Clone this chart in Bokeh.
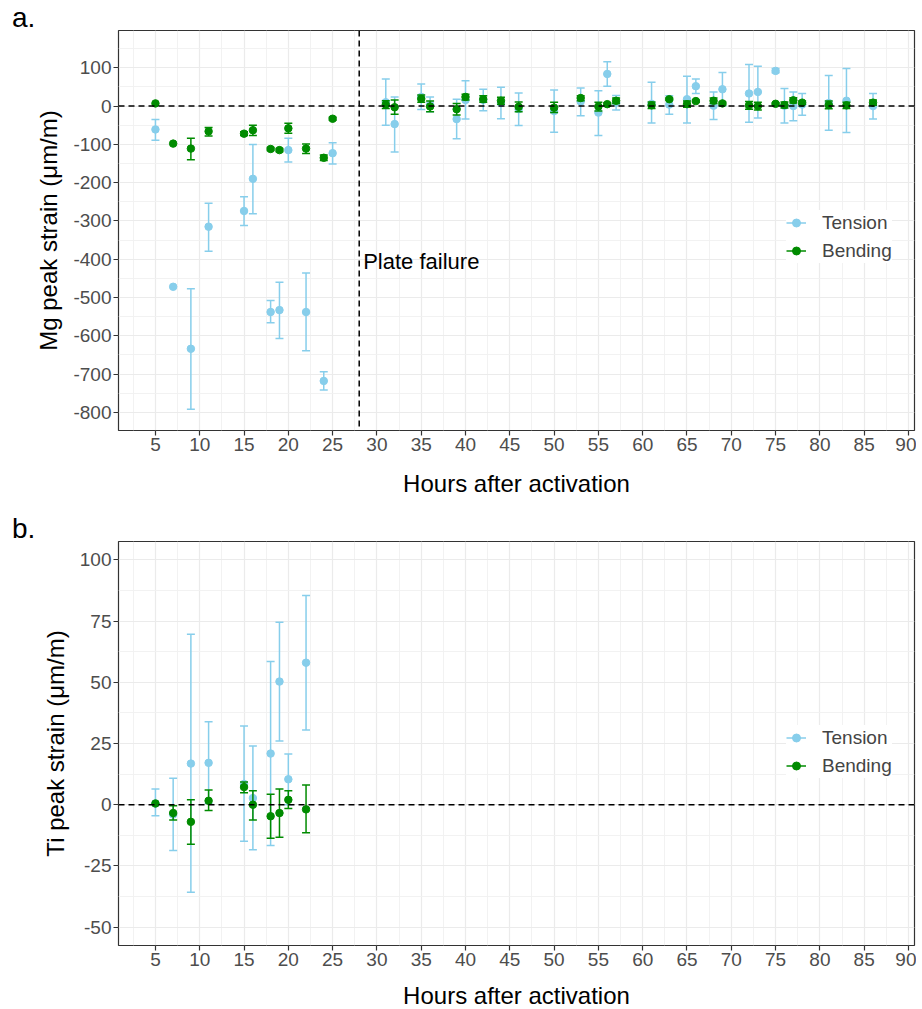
from bokeh.plotting import figure
from bokeh.models import (ColumnDataSource, FixedTicker, Span, Label, Legend,
                          LegendItem, Range1d, Div)
from bokeh.layouts import column
from bokeh.embed import file_html
from bokeh.resources import INLINE

FONT = "Liberation Sans"
TENSION_COLOR = "#87CEEB"
BENDING_COLOR = "#008B00"

# ---------------- x axis ticks (shared) ----------------
x_ticks = [5, 10, 15, 20, 25, 30, 35, 40, 45, 50, 55, 60, 65, 70, 75, 80, 85, 90]
x_minor = [2.5, 7.5, 12.5, 17.5, 22.5, 27.5, 32.5, 37.5, 42.5, 47.5, 52.5,
           57.5, 62.5, 67.5, 72.5, 77.5, 82.5, 87.5]

# ---------------- panel a: Mg ----------------
mg_y_ticks = [-800, -700, -600, -500, -400, -300, -200, -100, 0, 100]
mg_y_minor = [-750, -650, -550, -450, -350, -250, -150, -50, 50, 150]

mg_t_hours = [5, 7, 9, 11, 15, 16, 18, 19, 20, 22, 24, 25, 31, 32, 35, 36, 39, 40,
              42, 44, 46, 50, 53, 55, 56, 57, 61, 63, 65, 66, 68, 69, 72, 73, 75,
              76, 77, 78, 81, 83, 86]
mg_t_mean = [-61, -472, -634, -315, -274, -190, -538, -533, -115, -538, -718, -123,
             10, -47, 24, 4, -34, 16, 16, 8, -8, -13, 12, -17, 84, 9, 6, 4, 18, 52,
             1, 44, 33, 37, 92, 1, 0, 4, 8, 14, 0]
mg_t_low = [-89, None, -792, -379, -312, -281, -566, -607, -146, -639, -742, -151,
            -50, -120, -9, -15, -85, -34, -12, -33, -51, -68, -25, -77, 52, -10,
            -44, -21, -44, 33, -35, 0, -42, -31, 87, -44, -38, -24, -63, -69, -34]
mg_t_high = [-35, None, -477, -254, -237, -100, -508, -460, -84, -436, -694, -96,
             71, 24, 58, 24, 18, 66, 44, 49, 34, 42, 47, 40, 116, 28,
             62, 27, 78, 71, 37, 88, 109, 104, 98, 46, 37, 33, 80, 98, 33]

mg_b_hours = mg_t_hours
mg_b_mean = [7, -98, -111, -66, -72, -63, -112, -115, -58, -111, -135, -33,
             4, -3, 19, -1, -8, 24, 18, 14, -2, -4, 21, -1, 5, 14,
             2, 18, 5, 13, 14, 7, 2, 0, 6, 3, 15, 9, 3, 2, 9]
mg_b_low = [None, None, -140, -78, -77, -77, -116, -119, -71, -124, -142, -37,
            -6, -21, 10, -15, -23, 16, 10, 5, -15, -17, 14, -13, 1, 7,
            -6, 15, -3, 10, 7, 3, -8, -10, 3, -5, 8, 5, -7, -6, 2]
mg_b_high = [None, None, -84, -56, -67, -50, -108, -111, -45, -99, -128, -29,
             14, 16, 29, 13, 7, 31, 27, 23, 11, 10, 27, 10, 9, 21,
             11, 21, 13, 16, 21, 11, 12, 10, 9, 11, 22, 13, 13, 10, 16]

# ---------------- panel b: Ti ----------------
ti_y_ticks = [-50, -25, 0, 25, 50, 75, 100]
ti_y_minor = [-37.5, -12.5, 12.5, 37.5, 62.5, 87.5]

ti_t_hours = [5, 7, 9, 11, 15, 16, 18, 19, 20, 22]
ti_t_mean = [0.5, -4, 16.8, 17.1, 8.5, 2.7, 20.9, 50.3, 10.4, 58.0]
ti_t_low = [-4.5, -18.7, -35.8, 0.5, -14.9, -18.4, -16.7, 26.0, 0.0, 30.5]
ti_t_high = [6.4, 10.8, 69.6, 33.9, 32.1, 24.0, 58.5, 74.5, 20.7, 85.4]

ti_b_hours = ti_t_hours
ti_b_mean = [0.5, -3.4, -7.0, 1.6, 7.2, 0.0, -4.7, -3.4, 2.0, -1.9]
ti_b_low = [None, -6.2, -16.1, -2.4, 4.9, -6.2, -13.7, -13.3, -1.5, -11.5]
ti_b_high = [None, -0.4, 2.0, 6.0, 9.3, 5.7, 4.3, 6.4, 5.7, 8.0]

ZERO = 0
PLATE_FAILURE_HOUR = 28
CAP_WIDTH = 0.9


def add_series(p, hours, mean, low, high, color):
    src = ColumnDataSource(dict(
        h=hours, v=mean, lo=[float("nan") if x is None else x for x in low],
        hi=[float("nan") if x is None else x for x in high],
        cl=[h - CAP_WIDTH / 2 for h in hours],
        cr=[h + CAP_WIDTH / 2 for h in hours]))
    bar = p.segment(x0="h", y0="lo", x1="h", y1="hi", source=src,
                    line_color=color, line_width=1.5)
    p.segment(x0="cl", y0="hi", x1="cr", y1="hi", source=src,
              line_color=color, line_width=1.5)
    p.segment(x0="cl", y0="lo", x1="cr", y1="lo", source=src,
              line_color=color, line_width=1.5)
    dots = p.scatter("h", "v", source=src, size=7.5, color=color)
    return bar, dots


def make_panel(y_range, y_ticks, y_minor, ylabel, frame_h, border_bottom,
               xlabel_standoff):
    p = figure(frame_width=796, frame_height=frame_h,
               x_range=Range1d(0.83, 90.68), y_range=Range1d(*y_range),
               output_backend="svg", toolbar_location=None,
               min_border_left=118, min_border_right=2,
               min_border_top=2, min_border_bottom=border_bottom,
               background_fill_color="white", border_fill_color="white")
    p.outline_line_color = "#333333"
    p.outline_line_width = 1.2
    p.xaxis.ticker = FixedTicker(ticks=x_ticks, minor_ticks=x_minor)
    p.yaxis.ticker = FixedTicker(ticks=y_ticks, minor_ticks=y_minor)
    p.xaxis.major_label_overrides = {t: str(t) for t in x_ticks}
    p.yaxis.major_label_overrides = {t: str(t) for t in y_ticks}
    for ax in (p.xaxis, p.yaxis):
        ax.axis_line_color = None
        ax.major_tick_line_color = "#333333"
        ax.major_tick_line_width = 1.2
        ax.major_tick_out = 5
        ax.major_tick_in = 0
        ax.minor_tick_line_color = None
        ax.major_label_text_font = FONT
        ax.major_label_text_font_size = "19px"
        ax.major_label_text_color = "#4D4D4D"
        ax.major_label_standoff = 2
        ax.axis_label_text_font = FONT
        ax.axis_label_text_font_size = "24px"
        ax.axis_label_text_font_style = "normal"
        ax.axis_label_text_color = "black"
    p.xaxis.axis_label = "Hours after activation"
    p.xaxis.axis_label_standoff = xlabel_standoff
    p.yaxis.axis_label = ylabel
    p.yaxis.axis_label_standoff = 8
    for g in (p.xgrid, p.ygrid):
        g.grid_line_color = "#EBEBEB"
        g.grid_line_width = 1.2
        g.minor_grid_line_color = "#F0F0F0"
        g.minor_grid_line_width = 0.9
    return p


def add_legend(p, t_rend, b_rend, x, y):
    legend = Legend(items=[LegendItem(label="Tension", renderers=list(t_rend)),
                           LegendItem(label="Bending", renderers=list(b_rend))],
                    location=(x, y), background_fill_color="white",
                    background_fill_alpha=1, border_line_color=None,
                    label_text_font=FONT, label_text_font_size="19px",
                    glyph_width=20, glyph_height=25, label_height=25,
                    spacing=3, padding=10, label_standoff=16, margin=0)
    p.add_layout(legend)


def panel_tag(text, pad_top, height):
    return Div(text=text, width=906, height=height,
               styles={"font-family": FONT, "font-size": "28px",
                       "line-height": "28px", "padding-top": f"{pad_top}px",
                       "padding-left": "12px", "color": "black",
                       "margin": "0px"})


# ---------------- build panel a ----------------
pa = make_panel((-847.5, 197.5), mg_y_ticks, mg_y_minor,
                "Mg peak strain (\u03bcm/m)", 400, 75, 16)
ta = add_series(pa, mg_t_hours, mg_t_mean, mg_t_low, mg_t_high, TENSION_COLOR)
ba = add_series(pa, mg_b_hours, mg_b_mean, mg_b_low, mg_b_high, BENDING_COLOR)
pa.add_layout(Span(location=ZERO, dimension="width", line_color="black",
                   line_dash="6 4", line_width=1.5))
pa.add_layout(Span(location=PLATE_FAILURE_HOUR, dimension="height",
                   line_color="black", line_dash="6 4", line_width=1.5))
pa.add_layout(Label(x=PLATE_FAILURE_HOUR + 0.45, y=-407, text="Plate failure",
                    text_font=FONT, text_font_size="22px", text_color="black",
                    text_baseline="middle"))
add_legend(pa, ta, ba, 668, 167)

# ---------------- build panel b ----------------
pb = make_panel((-57.5, 107.5), ti_y_ticks, ti_y_minor,
                "Ti peak strain (\u03bcm/m)", 404, 52, 13)
tb = add_series(pb, ti_t_hours, ti_t_mean, ti_t_low, ti_t_high, TENSION_COLOR)
bb = add_series(pb, ti_b_hours, ti_b_mean, ti_b_low, ti_b_high, BENDING_COLOR)
pb.add_layout(Span(location=ZERO, dimension="width", line_color="black",
                   line_dash="6 4", line_width=1.5))
add_legend(pb, tb, bb, 668, 167)

layout = column(panel_tag("a.", 4, 28), pa, panel_tag("b.", 10, 34), pb,
                spacing=0)
open("out.html", "w").write(file_html(layout, INLINE))
